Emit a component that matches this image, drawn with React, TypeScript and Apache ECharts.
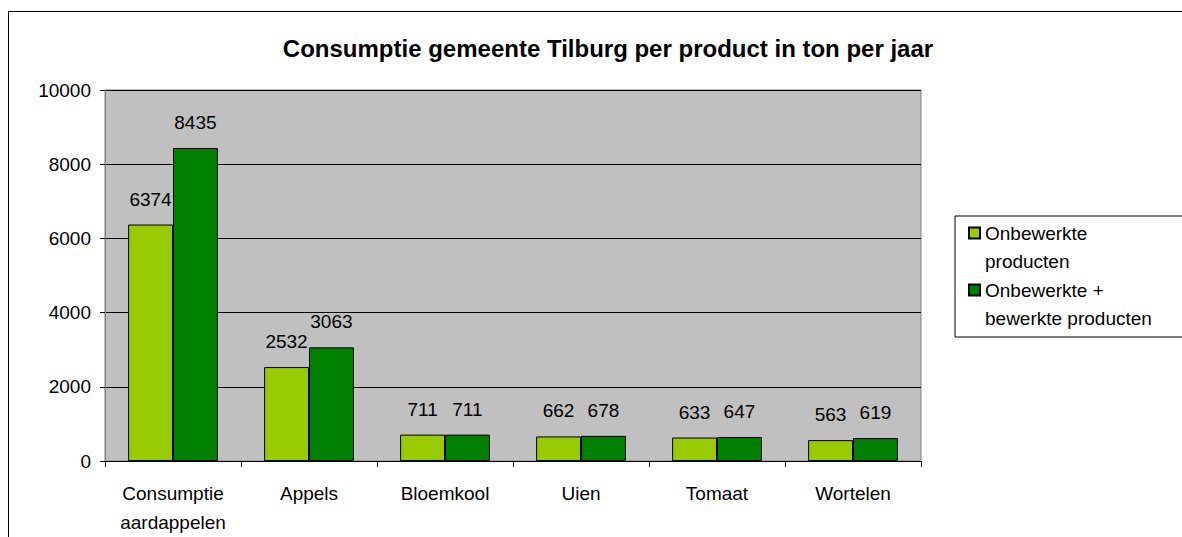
import React, { useEffect, useRef } from "react";
import * as echarts from "echarts";

const categories = ["Consumptie\naardappelen", "Appels", "Bloemkool", "Uien", "Tomaat", "Wortelen"];
const seriesNames = ["Onbewerkte\nproducten", "Onbewerkte +\nbewerkte producten"];
const onbewerkt = [6374, 2532, 711, 662, 633, 563];
const onbewerktPlusBewerkt = [8435, 3063, 711, 678, 647, 619];
const yTicks = { min: 0, max: 10000, interval: 2000 };
const title = "Consumptie gemeente Tilburg per product in ton per jaar";

const FONT = "Arial, 'Liberation Sans', sans-serif";
const legendIcon = "path://M0 0H11V11H0Z M0 39";

export default function App() {
  const ref = useRef<HTMLDivElement>(null);
  useEffect(() => {
    document.body.style.margin = "0";
    const chart = echarts.init(ref.current!, null, { renderer: "svg" });
    const labelStyle = {
      show: true,
      position: "top" as const,
      distance: 16,
      fontSize: 19,
      color: "#000",
      fontFamily: FONT,
    };
    chart.setOption({
      animation: false,
      backgroundColor: "#fff",
      textStyle: { fontFamily: FONT },
      title: {
        text: title,
        left: 603,
        textAlign: "center",
        top: 31,
        textStyle: { fontSize: 24, fontWeight: "bold", color: "#000", fontFamily: FONT },
      },
      graphic: [
        {
          type: "rect",
          shape: { x: 8.5, y: 11.5, width: 1300, height: 700 },
          style: { fill: "none", stroke: "#000", lineWidth: 1 },
          silent: true,
          z: 100,
        },
      ],
      legend: {
        orient: "vertical",
        left: 955,
        top: 216,
        padding: [3, 60, 5, 13],
        borderColor: "#000",
        borderWidth: 1,
        itemWidth: 11,
        itemHeight: 39,
        itemGap: 1,
        itemTextGap: 10,
        icon: legendIcon,
        selectedMode: false,
        textStyle: { fontSize: 19, lineHeight: 28, color: "#000", fontFamily: FONT },
        data: seriesNames,
      },
      grid: {
        left: 105,
        right: 261,
        top: 90,
        bottom: 74,
        show: true,
        backgroundColor: "#C0C0C0",
        borderColor: "#808080",
        borderWidth: 1,
      },
      xAxis: {
        type: "category",
        data: categories,
        axisLine: { show: true, lineStyle: { color: "#000", width: 1 } },
        axisTick: { show: true, length: 6, lineStyle: { color: "#000" } },
        axisLabel: {
          fontSize: 19,
          lineHeight: 29,
          margin: 18,
          color: "#000",
          fontFamily: FONT,
          interval: 0,
        },
      },
      yAxis: {
        type: "value",
        min: yTicks.min,
        max: yTicks.max,
        interval: yTicks.interval,
        axisLine: { show: true, lineStyle: { color: "#808080", width: 1 } },
        axisTick: { show: true, length: 5, lineStyle: { color: "#000" } },
        axisLabel: {
          fontSize: 19,
          margin: 14,
          color: "#000",
          fontFamily: FONT,
          formatter: (v: number) => String(v),
        },
        splitLine: { show: true, lineStyle: { color: "#000", width: 1 } },
      },
      series: [
        {
          name: seriesNames[0],
          type: "bar",
          data: onbewerkt,
          barGap: "0%",
          barCategoryGap: "34%",
          itemStyle: { color: "#99CC00", borderColor: "#000", borderWidth: 1 },
          label: labelStyle,
        },
        {
          name: seriesNames[1],
          type: "bar",
          data: onbewerktPlusBewerkt,
          barGap: "0%",
          barCategoryGap: "34%",
          itemStyle: { color: "#008000", borderColor: "#000", borderWidth: 1 },
          label: labelStyle,
        },
      ],
    });
    return () => chart.dispose();
  }, []);
  return <div ref={ref} style={{ width: 1182, height: 537, overflow: "hidden" }} />;
}
